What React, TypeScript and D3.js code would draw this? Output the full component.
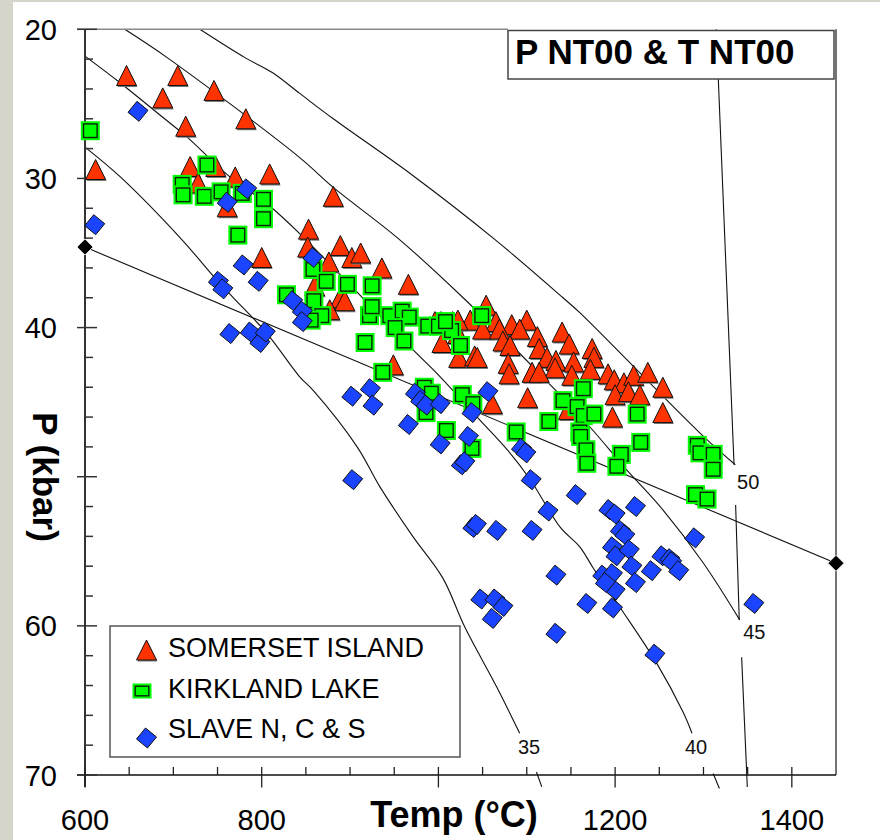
import React, { useEffect } from "react";
import * as d3 from "d3";

type Pt = [number, number];

// ---------- data (Temp °C, P kbar) ----------
const somerset: Pt[] = [
  [647, 23.1], [705, 23.1], [746, 24.1], [688, 24.6], [714, 26.5], [782, 26.0], [612, 29.4],
  [719, 29.2], [748, 29.2], [770, 29.9], [809, 29.7], [728, 30.3], [761, 31.9], [800, 35.3],
  [881, 31.2], [853, 33.4], [852, 34.6], [889, 34.5], [902, 35.3], [912, 35.0], [876, 35.6],
  [936, 36.0], [966, 37.1], [860, 37.2], [889, 38.0], [877, 38.8], [894, 38.2], [949, 42.5],
  [996, 39.6], [1003, 39.6], [1016, 39.6], [1022, 40.4], [1004, 41.0], [1023, 42.0], [1041, 41.9],
  [1054, 38.5], [1036, 39.5], [1065, 39.6], [1083, 39.8], [1100, 39.5], [1050, 40.1], [1069, 40.1],
  [1092, 40.1], [1112, 40.6], [1140, 40.3], [1148, 41.1], [1073, 40.9], [1081, 41.2], [1114, 41.4],
  [1123, 42.0], [1133, 42.2], [1174, 41.4], [1176, 42.0], [1044, 42.0], [1079, 42.4], [1106, 43.0],
  [1132, 42.7], [1153, 42.3], [1172, 42.8], [1080, 43.1], [1114, 43.0], [1151, 43.2], [1192, 43.1],
  [1199, 43.5], [1210, 43.7], [1221, 43.2], [1237, 43.0], [1254, 44.0], [1200, 44.5], [1215, 44.3],
  [1228, 44.5], [1101, 44.7], [1197, 46.0], [1254, 45.7], [1061, 45.1], [1147, 45.5], [1022, 39.5],
];

const kirkland: Pt[] = [
  [606, 26.8], [738, 29.1], [710, 30.4], [711, 31.1], [735, 31.2], [754, 30.9], [778, 31.0],
  [802, 31.4], [802, 32.7], [773, 33.8], [828, 37.8], [858, 36.1], [873, 36.9], [897, 37.1],
  [925, 37.2], [859, 38.2], [868, 39.2], [856, 39.5], [922, 39.2], [925, 38.6], [945, 39.2],
  [959, 38.9], [967, 39.3], [951, 40.0], [988, 39.9], [1000, 39.9], [1015, 40.2], [961, 40.9],
  [917, 41.0], [1025, 41.2], [1049, 39.2], [1008, 39.6], [937, 43.0], [984, 44.0], [992, 44.4],
  [986, 45.7], [1027, 44.5], [1039, 45.1], [1009, 46.9], [1038, 48.1], [1088, 47.0], [1141, 44.9],
  [1125, 46.3], [1164, 44.1], [1157, 45.3], [1164, 45.9], [1176, 45.8], [1160, 47.0], [1225, 45.8],
  [1229, 47.7], [1161, 47.3], [1167, 48.2], [1168, 49.1], [1207, 48.5], [1202, 49.3], [1293, 47.9],
  [1296, 48.4], [1311, 48.5], [1311, 49.5], [1291, 51.2], [1304, 51.5],
];

const slave: Pt[] = [
  [660, 25.5], [611, 33.1], [761, 31.6], [783, 30.7], [779, 35.8], [796, 36.9], [751, 36.9],
  [756, 37.4], [764, 40.4], [787, 40.3], [798, 41.0], [804, 40.3], [858, 35.3], [835, 38.2],
  [846, 38.9], [846, 39.6], [902, 44.6], [923, 44.1], [926, 45.2], [974, 44.4], [980, 44.9],
  [986, 45.2], [1002, 45.1], [966, 46.5], [1002, 47.8], [1034, 47.3], [1038, 45.7], [1056, 44.3],
  [1026, 49.2], [1030, 49.0], [903, 50.2], [1094, 48.1], [1099, 48.4], [1105, 50.2], [1124, 52.3],
  [1156, 51.2], [1039, 53.4], [1043, 53.2], [1066, 53.6], [1106, 53.6], [1133, 56.6], [1048, 58.2],
  [1064, 58.2], [1073, 58.7], [1061, 59.5], [1133, 60.5], [1193, 52.2], [1200, 52.5], [1223, 52.0],
  [1206, 53.6], [1211, 53.9], [1197, 54.7], [1201, 55.3], [1216, 54.9], [1290, 54.1], [1253, 55.3],
  [1262, 55.5], [1264, 55.7], [1272, 56.3], [1241, 56.3], [1219, 56.0], [1223, 57.1], [1186, 56.6],
  [1197, 56.5], [1200, 57.6], [1168, 58.5], [1197, 58.8], [1357, 58.5], [1245, 61.9], [1189, 57.1],
];

// geotherms (mW/m2)
const geotherm50: Pt[] = [
  [730, 20], [781, 21.9], [812, 22.9], [843, 24.3], [881, 26.0], [971, 29.8], [1062, 34.0],
  [1141, 38.0], [1160, 39.0], [1300, 47.3], [1336, 49.2],
];
const geotherm45: Pt[] = [
  [645, 20], [693, 21.9], [843, 28.6], [881, 30.6], [954, 34.0], [1028, 38.0], [1113, 43.0],
  [1172, 46.7], [1211, 49.4], [1251, 52.0], [1300, 55.8], [1341, 59.6],
];
const geotherm40: Pt[] = [
  [600, 21.8], [640, 23.6], [688, 25.9], [715, 27.2], [764, 29.9], [806, 31.7], [843, 33.7],
  [968, 41.3], [1002, 43.3], [1047, 46.2], [1078, 48.2], [1104, 50.2], [1138, 53.4], [1160, 54.7],
  [1175, 56.1], [1206, 58.8], [1247, 62.5], [1277, 65.8], [1287, 67.2],
];
const geotherm40Tail: Pt[] = [[1311, 69.9], [1318, 70.9]];
const geotherm35: Pt[] = [
  [600, 27.9], [640, 29.9], [708, 34.0], [749, 36.8], [768, 38.0], [806, 40.4], [843, 43.3],
  [858, 44.2], [908, 48.0], [934, 50.7], [971, 54.0], [1005, 56.8], [1030, 60.1], [1066, 64.1],
  [1092, 67.2],
];
const geotherm35Tail: Pt[] = [[1111, 69.8], [1117, 70.8]];

const geothermLabels: { text: string; T: number; P: number }[] = [
  { text: "50", T: 1338, P: 50.8 },
  { text: "45", T: 1345, P: 60.9 },
  { text: "40", T: 1279, P: 68.6 },
  { text: "35", T: 1090, P: 68.6 },
];

// near-vertical line (three visible pieces)
const steepLine: Pt[][] = [
  [[1314.5, 20], [1334.6, 49.2]],
  [[1336.4, 51.9], [1340.5, 59.6]],
  [[1343.2, 62.1], [1349.6, 70.8]],
];

// straight reaction line with end markers
const reactionLine: Pt[] = [[600, 34.6], [1450, 55.8]];

const xMajorTicks = [600, 800, 1000, 1200, 1400];
const xTickLabels = [600, 800, 1200, 1400];
const yMajorTicks = [20, 30, 40, 50, 60, 70];
const yTickLabels = [20, 30, 40, 60, 70];

const legendItems = ["SOMERSET ISLAND", "KIRKLAND LAKE", "SLAVE N, C & S"];

const FONT = "'Liberation Sans', Arial, Helvetica, sans-serif";
const RED = "#ff3300";
const GREEN = "#00ff00";
const BLUE = "#1a44ff";

const TRI = "M0,-10 L10,10 L-10,10 Z";
const TRI_SHADOW = "M1,-8.5 L11,11.5 L-9,11.5 Z";
const DIAMOND = "M-1,-10 L10,-1 L1,10 L-10,1 Z";

function Triangle({ cx, cy }: { cx: number; cy: number }) {
  return (
    <g transform={`translate(${cx},${cy})`}>
      <path d={TRI_SHADOW} fill="#7a7a7a" />
      <path d={TRI} fill={RED} stroke="#111" strokeWidth={1} strokeLinejoin="miter" />
    </g>
  );
}

function Square({ cx, cy, w = 19, h = 19 }: { cx: number; cy: number; w?: number; h?: number }) {
  return (
    <g transform={`translate(${cx},${cy})`}>
      <rect x={-w / 2} y={-h / 2} width={w} height={h} fill={GREEN} />
      <rect x={-w / 2 + 2.7} y={-h / 2 + 2.7} width={w - 5.4} height={h - 5.4} fill="none" stroke="#0b240b" strokeWidth={1.4} />
    </g>
  );
}

function Diamond({ cx, cy }: { cx: number; cy: number }) {
  return <path transform={`translate(${cx},${cy})`} d={DIAMOND} fill={BLUE} stroke="#111" strokeWidth={1} />;
}

export default function App() {
  useEffect(() => {
    document.body.style.margin = "0";
  }, []);

  const W = 880;
  const H = 840;
  const left = 85, right = 836, top = 29.3, bottom = 775;

  const x = d3.scaleLinear().domain([600, 1450]).range([left, right]);
  const y = d3.scaleLinear().domain([20, 70]).range([top, bottom]);

  const curve = d3
    .line<Pt>()
    .x((d) => x(d[0]))
    .y((d) => y(d[1]))
    .curve(d3.curveCatmullRom.alpha(0.5));
  const straight = d3
    .line<Pt>()
    .x((d) => x(d[0]))
    .y((d) => y(d[1]));

  const xMinor = d3.range(650, 1450, 50).filter((v) => v % 200 !== 0);
  const yMinor = d3.range(22, 70, 2).filter((v) => v % 10 !== 0);

  const curveStyle = { fill: "none", stroke: "#111", strokeWidth: 1.1 };

  return (
    <svg
      width={W}
      height={H}
      viewBox={`0 0 ${W} ${H}`}
      style={{ display: "block", position: "absolute", left: 0, top: 0 }}
      fontFamily={FONT}
    >
      {/* page background */}
      <rect x={0} y={0} width={W} height={H} fill="#d5d5c9" />
      <rect x={13} y={2} width={W - 13} height={H - 2} fill="#ffffff" />

      {/* geotherms and lines */}
      <path d={curve(geotherm50) || ""} {...curveStyle} />
      <path d={curve(geotherm45) || ""} {...curveStyle} />
      <path d={curve(geotherm40) || ""} {...curveStyle} />
      <path d={straight(geotherm40Tail) || ""} {...curveStyle} />
      <path d={curve(geotherm35) || ""} {...curveStyle} />
      <path d={straight(geotherm35Tail) || ""} {...curveStyle} />
      {steepLine.map((seg, i) => (
        <path key={"s" + i} d={straight(seg) || ""} {...curveStyle} strokeWidth={1.1} />
      ))}
      <path d={straight(reactionLine) || ""} {...curveStyle} />

      {geothermLabels.map((l) => (
        <text key={l.text} x={x(l.T)} y={y(l.P)} fontSize={20} fill="#111">
          {l.text}
        </text>
      ))}

      {/* frame */}
      <line x1={77} x2={508} y1={top} y2={top} stroke="#8a8a8a" strokeWidth={1.6} />
      <line x1={right} x2={right} y1={top} y2={bottom} stroke="#444" strokeWidth={1.5} />
      <line x1={left} x2={left} y1={top} y2={bottom + 12} stroke="#333" strokeWidth={2} />
      <line x1={77} x2={right} y1={bottom} y2={bottom} stroke="#111" strokeWidth={1.5} />

      {/* y ticks */}
      {yMajorTicks.map((v) => (
        <line key={"ym" + v} x1={left - 8} x2={left + 12} y1={y(v)} y2={y(v)} stroke="#333" strokeWidth={1.5} />
      ))}
      {yMinor.map((v) => (
        <line key={"yn" + v} x1={left} x2={left + 8} y1={y(v)} y2={y(v)} stroke="#333" strokeWidth={1.5} />
      ))}
      {yTickLabels.map((v) => (
        <text key={"yl" + v} x={57} y={y(v) + 10.5} fontSize={29} textAnchor="end" fill="#000">
          {v}
        </text>
      ))}

      {/* x ticks */}
      {xMajorTicks.map((v) => (
        <line key={"xm" + v} x1={x(v)} x2={x(v)} y1={bottom - 8} y2={bottom + 12.5} stroke="#222" strokeWidth={1.3} />
      ))}
      {xMinor.map((v) => (
        <line key={"xn" + v} x1={x(v)} x2={x(v)} y1={bottom - 8} y2={bottom} stroke="#222" strokeWidth={1.3} />
      ))}
      {xTickLabels.map((v) => (
        <text key={"xl" + v} x={x(v)} y={830} fontSize={29} textAnchor="middle" fill="#000">
          {v}
        </text>
      ))}

      {/* axis titles */}
      <text x={454} y={827} fontSize={36} fontWeight="bold" textAnchor="middle" fill="#000">
        Temp (°C)
      </text>
      <text transform="translate(33,477) rotate(90)" fontSize={35} fontWeight="bold" textAnchor="middle" fill="#000">
        P (kbar)
      </text>

      {/* data markers */}
      {somerset.map((d, i) => (
        <Triangle key={"t" + i} cx={x(d[0])} cy={y(d[1])} />
      ))}
      {kirkland.map((d, i) => (
        <Square key={"q" + i} cx={x(d[0])} cy={y(d[1])} />
      ))}
      {slave.map((d, i) => (
        <Diamond key={"d" + i} cx={x(d[0])} cy={y(d[1])} />
      ))}

      {/* reaction line end markers */}
      {reactionLine.map((d, i) => (
        <path
          key={"b" + i}
          transform={`translate(${x(d[0])},${y(d[1])})`}
          d="M0,-8 L8,0 L0,8 L-8,0 Z"
          fill="#000"
          stroke="#dcdcdc"
          strokeWidth={1}
        />
      ))}

      {/* title box */}
      <rect x={508} y={30.5} width={326} height={48.5} fill="#fff" stroke="#444" strokeWidth={1.5} />
      <text x={515} y={64} fontSize={35} fontWeight="bold" fill="#000">
        P NT00 &amp; T NT00
      </text>

      {/* legend */}
      <rect x={110} y={626} width={350} height={131} fill="#fff" stroke="#555" strokeWidth={1.5} />
      <Triangle cx={146.5} cy={650} />
      <Square cx={142} cy={691} w={19} h={15} />
      <Diamond cx={146.5} cy={738} />
      {legendItems.map((t, i) => (
        <text key={t} x={168} y={[657, 698, 738][i]} fontSize={27} fill="#000">
          {t}
        </text>
      ))}
    </svg>
  );
}
